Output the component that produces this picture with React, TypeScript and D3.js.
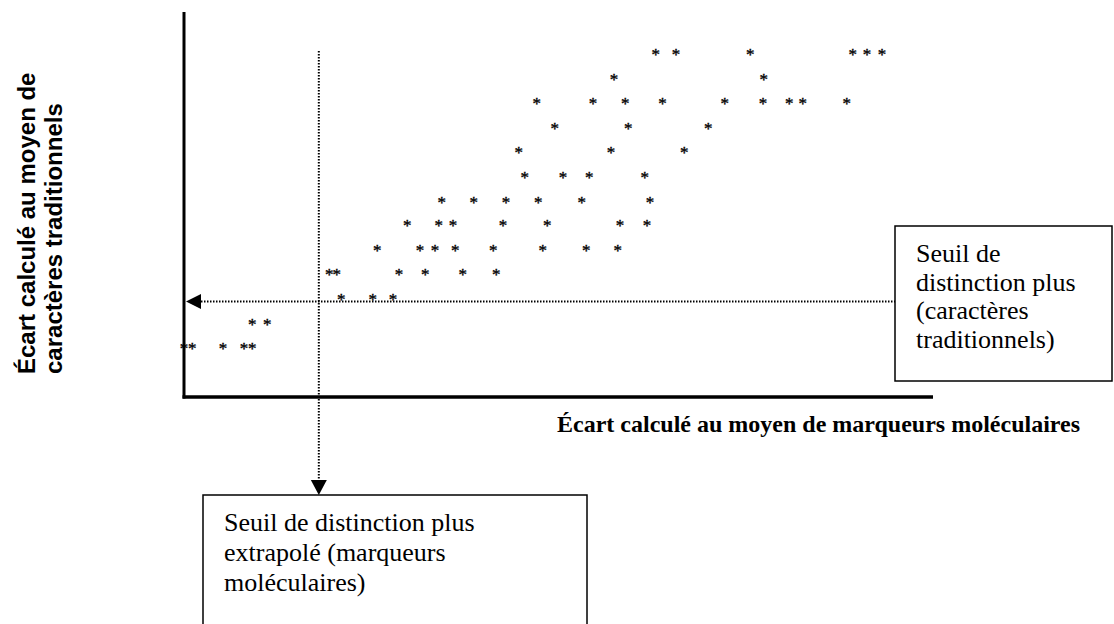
import React from "react";
import * as d3 from "d3";

// Écart moléculaire (x) and écart traditionnel (y), arbitrary units 0–100
const molecular = [
  63.0, 65.7, 75.6, 89.3, 91.2, 93.2,
  57.4, 77.4,
  47.1, 54.6, 58.9, 63.9, 72.2, 77.3, 80.8, 82.6, 88.5,
  49.5, 59.3, 70.0,
  44.7, 57.0, 66.8,
  45.5, 50.6, 54.1, 61.5,
  34.4, 38.7, 43.0, 47.3, 53.1, 62.2,
  29.8, 34.0, 35.9, 42.6, 48.5, 58.2, 61.8,
  25.8, 31.5, 33.5, 36.2, 41.3, 47.9, 53.7, 57.9,
  19.4, 20.4, 28.7, 32.2, 37.2, 41.7,
  21.0, 25.2, 27.9,
  9.1, 11.1,
  0.0, 1.1, 5.2, 8.0, 9.1,
];
const traditional = [
  89.6, 89.6, 89.6, 89.6, 89.6, 89.6,
  83.2, 83.2,
  77.0, 77.0, 77.0, 77.0, 77.0, 77.0, 77.0, 77.0, 77.0,
  70.4, 70.4, 70.4,
  64.2, 64.2, 64.2,
  57.7, 57.7, 57.7, 57.7,
  51.2, 51.2, 51.2, 51.2, 51.2, 51.2,
  45.1, 45.1, 45.1, 45.1, 45.1, 45.1, 45.1,
  38.8, 38.8, 38.8, 38.8, 38.8, 38.8, 38.8, 38.8,
  32.4, 32.4, 32.4, 32.4, 32.4, 32.4,
  26.1, 26.1, 26.1,
  19.5, 19.5,
  13.2, 13.2, 13.2, 13.2, 13.2,
];
const thresholdTraditional = 24.8;
const thresholdMolecular = 18.0;

const xLabel = "Écart calculé au moyen de marqueurs moléculaires";
const yLabelLines = ["Écart calculé au moyen de", "caractères traditionnels"];
const rightBoxLines = ["Seuil de", "distinction plus", "(caractères", "traditionnels)"];
const bottomBoxLines = ["Seuil de distinction plus", "extrapolé (marqueurs", "moléculaires)"];

const W = 1114;
const H = 624;

export default function App() {
  const x = d3.scaleLinear().domain([0, 100]).range([184, 933]);
  const y = d3.scaleLinear().domain([0, 100]).range([397, 12]);

  const serif = "'Liberation Serif', 'Times New Roman', Times, serif";
  const sans = "'Liberation Sans', Arial, Helvetica, sans-serif";

  const hy = y(thresholdTraditional);
  const vx = x(thresholdMolecular);

  const rightBox = { x: 895, y: 226, w: 217, h: 155 };
  const bottomBox = { x: 203, y: 495, w: 384, h: 160 };

  const leftArrow = d3.path();
  leftArrow.moveTo(x(0) + 2, hy);
  leftArrow.lineTo(x(0) + 17, hy - 7.5);
  leftArrow.lineTo(x(0) + 17, hy + 7.5);
  leftArrow.closePath();

  const downArrow = d3.path();
  downArrow.moveTo(vx, bottomBox.y);
  downArrow.lineTo(vx - 8, bottomBox.y - 15);
  downArrow.lineTo(vx + 8, bottomBox.y - 15);
  downArrow.closePath();

  const starSize = 17;

  return (
    <svg
      width={W}
      height={H}
      style={{ position: "absolute", left: 0, top: 0, background: "#fff" }}
    >
      <rect x={0} y={0} width={W} height={H} fill="#fff" />

      {/* dotted threshold lines */}
      <line
        x1={x(0) + 17}
        x2={rightBox.x}
        y1={hy}
        y2={hy}
        stroke="#000"
        strokeWidth={2}
        strokeDasharray="1.5 1.5"
      />
      <line
        x1={vx}
        x2={vx}
        y1={51}
        y2={bottomBox.y - 15}
        stroke="#000"
        strokeWidth={2}
        strokeDasharray="1.5 1.5"
      />
      <path d={leftArrow.toString()} fill="#000" />
      <path d={downArrow.toString()} fill="#000" />

      {/* axes */}
      <line x1={x(0)} x2={x(0)} y1={y(100)} y2={y(0) + 1.5} stroke="#000" strokeWidth={3} />
      <line x1={x(0) - 1.5} x2={x(100)} y1={y(0)} y2={y(0)} stroke="#000" strokeWidth={3.5} />

      {/* points */}
      {molecular.map((m, i) => (
        <text
          key={i}
          x={x(m)}
          y={y(traditional[i]) + starSize * 0.47}
          textAnchor="middle"
          fontFamily={serif}
          fontSize={starSize}
          fill="#000"
          stroke="#000"
          strokeWidth={0.35}
        >
          *
        </text>
      ))}

      {/* axis labels */}
      <text x={557} y={432} fontFamily={serif} fontWeight="bold" fontSize={24} fill="#000">
        {xLabel}
      </text>
      {yLabelLines.map((t, i) => (
        <text
          key={i}
          transform={`translate(${35 + i * 26.5},374) rotate(-90)`}
          fontFamily={sans}
          fontWeight="bold"
          fontSize={24}
          fill="#000"
        >
          {t}
        </text>
      ))}

      {/* right annotation box */}
      <rect
        x={rightBox.x}
        y={rightBox.y}
        width={rightBox.w}
        height={rightBox.h}
        fill="#fff"
        stroke="#000"
        strokeWidth={1.5}
      />
      {rightBoxLines.map((t, i) => (
        <text key={i} x={916} y={262 + i * 28.7} fontFamily={serif} fontSize={26} fill="#000">
          {t}
        </text>
      ))}

      {/* bottom annotation box */}
      <rect
        x={bottomBox.x}
        y={bottomBox.y}
        width={bottomBox.w}
        height={bottomBox.h}
        fill="#fff"
        stroke="#000"
        strokeWidth={1.5}
      />
      {bottomBoxLines.map((t, i) => (
        <text key={i} x={224} y={531 + i * 30} fontFamily={serif} fontSize={26} fill="#000">
          {t}
        </text>
      ))}
    </svg>
  );
}
